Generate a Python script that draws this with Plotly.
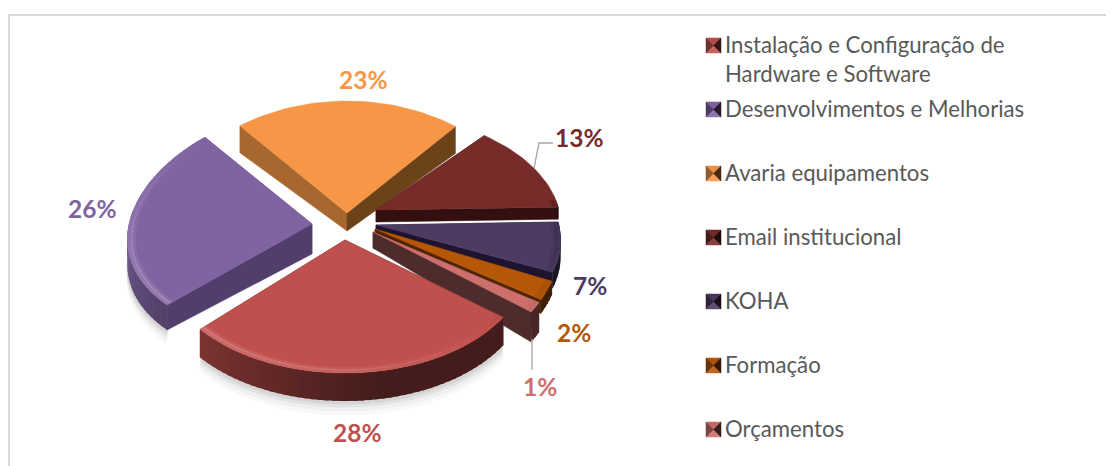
import math
import plotly.graph_objects as go

categories = ["Instalação e Configuração de\nHardware e Software", "Desenvolvimentos e Melhorias",
              "Avaria equipamentos", "Email institucional", "KOHA", "Formação", "Orçamentos"]
values = [27.6, 25.8, 22.8, 13.1, 7.0, 2.4, 1.3]
percent_labels = ["28%", "26%", "23%", "13%", "7%", "2%", "1%"]

top_colors = ["#C0504D", "#8064A2", "#F79646", "#772C2A", "#4D3B62", "#B65708", "#CD6F6C"]
cut_left = ["#4F2A2A", "#523E6C", "#6C4319", "#330F0F", "#1E1430", "#4E2500", "#4F2C2C"]
cut_right = ["#4F2A2A", "#523E6C", "#A8672F", "#330F0F", "#1E1430", "#4E2500", "#4F2C2C"]

# styling / layout (pixels of the picture)
START = 127.0
RX, PERSP = 183.0, 25.0
RY = [122.0, 116.0, 125.0, 125.0, 125.0, 125.0, 125.0]
RY_PERSP = [11.0, 2.0, 13.0, 13.0, 13.0, 13.0, 13.0]
APEX = [(345, 240), (312, 224), (347, 213), (376, 210), (376, 225), (375, 229), (373, 232)]
THICK = [(24, 28), (30, 25), (18, 27), (12, 12), (8, 16), (5, 14), (16, 30)]
Y_SCALE = [1, 1, 1, 0.86, 0.9, 1, 1]
LABEL_POS = [(357, 432), (92, 208), (363, 79), (579, 137), (590, 285), (574, 332), (540, 386)]
DRAW_ORDER = [2, 3, 1, 4, 5, 6, 0]
FONT = "Lato"


def mix(c, target, t):
    c = c.lstrip("#")
    rgb = [int(c[i:i + 2], 16) for i in (0, 2, 4)]
    return "rgb(" + ",".join(str(round(v + (target - v) * t)) for v in rgb) + ")"


def rim(i, th, r=1.0):
    a = math.radians(th)
    ap = APEX[i]
    return (ap[0] + r * math.sin(a) * (RX - PERSP * math.cos(a)),
            ap[1] - r * math.cos(a) * (RY[i] - RY_PERSP[i] * math.cos(a)) * Y_SCALE[i])


fig = go.Figure()


def poly(points, color, lw=0.0):
    xs = [p[0] for p in points] + [points[0][0]]
    ys = [p[1] for p in points] + [points[0][1]]
    fig.add_trace(go.Scatter(x=xs, y=ys, mode="lines", fill="toself", fillcolor=color,
                             line=dict(color=color, width=lw), hoverinfo="skip", showlegend=False))


def frange(a, b, step):
    n = max(1, int(math.ceil((b - a) / step)))
    return [a + (b - a) * i / n for i in range(n + 1)]


total = sum(values)
spans = []
acc = START
for v in values:
    spans.append((acc, acc + v / total * 360))
    acc += v / total * 360

# soft shadow below the front rims
for i in [0, 1, 6, 5, 4]:
    a0, a1 = spans[i]
    lo, hi = max(a0, 90), min(a1, 272)
    if hi <= lo:
        continue
    for grow, alpha in ((14, 0.025), (10, 0.035), (6, 0.05), (3, 0.06)):
        ths = frange(lo, hi, 4)
        outer = [(x, y + THICK[i][1] + grow) for x, y in (rim(i, t, 1.005) for t in ths)]
        inner = [(x, y + THICK[i][1] - 8) for x, y in (rim(i, t, 0.97) for t in reversed(ths))]
        poly(outer + inner, f"rgba(0,0,0,{alpha})")

# slices, painted from back to front
for i in DRAW_ORDER:
    a0, a1 = spans[i]
    apex = APEX[i]
    t_a, t_r = THICK[i]
    base = top_colors[i]
    # cut faces
    for th, col in ((a0, cut_right[i]), (a1, cut_left[i])):
        p = rim(i, th)
        poly([apex, p, (p[0], p[1] + t_r), (apex[0], apex[1] + t_a)], col, 0.5)
    # outer side
    ths = frange(a0, a1, 2)
    for t0, t1 in zip(ths, ths[1:]):
        m = ((t0 + t1) / 2) % 360
        if not 85 <= m <= 275:
            continue
        d = min(0.65, max(0.2, 0.65 - (m - 170) / 80 * 0.42))
        t2 = min(t1 + 1.0, a1)
        p0, p1 = rim(i, t0), rim(i, t2)
        poly([p0, p1, (p1[0], p1[1] + t_r), (p0[0], p0[1] + t_r)], mix(base, 0, d))
    # top
    poly([apex] + [rim(i, t) for t in frange(a0, a1, 2)], base, 0.5)
    # bevel along the rim
    for r_in, r_out, s in ((0.955, 0.97, 0.25), (0.97, 0.985, 0.7), (0.985, 1.0, 0.45)):
        for t0, t1 in zip(ths, ths[1:]):
            m = ((t0 + t1) / 2) % 360
            if not 85 <= m <= 320:
                continue
            l = math.cos(math.radians(m - 225))
            col = mix(base, 255, 0.32 * l * s) if l > 0 else mix(base, 0, 0.4 * -l * s)
            t2 = min(t1 + 1.0, a1)
            poly([rim(i, t0, r_in), rim(i, t2, r_in), rim(i, t2, r_out), rim(i, t0, r_out)], col)

# legend
KEY_X, KEY_S = 706, 15
for i, name in enumerate(categories):
    cy = 45.5 + 64 * i
    c = top_colors[i]
    l, r, t, b = KEY_X, KEY_X + KEY_S, cy - KEY_S / 2, cy + KEY_S / 2
    mid = (KEY_X + KEY_S / 2, cy)
    poly([(l, t), (r, t), mid], mix(c, 0, 0.05), 0.5)
    poly([(l, b), (r, b), mid], mix(c, 255, 0.1), 0.5)
    poly([(l, t), (l, b), mid], mix(c, 0, 0.4), 0.5)
    poly([(r, t), (r, b), mid], mix(c, 0, 0.72), 0.5)
    for k, line in enumerate(name.split("\n")):
        fig.add_annotation(x=723, y=cy - 1 + k * 28.5, text=line, showarrow=False, xanchor="left",
                           yanchor="middle", font=dict(family=FONT, size=22.2, color="#595959"))

# data labels
for i, txt in enumerate(percent_labels):
    fig.add_annotation(x=LABEL_POS[i][0], y=LABEL_POS[i][1], text=f"<b>{txt}</b>", showarrow=False,
                       font=dict(family=FONT, size=24.5, color=top_colors[i]))

shapes = [
    dict(type="path", path="M 9 466 L 9 15 L 1114 15", line=dict(color="#D9D9D9", width=2), xref="x", yref="y"),
    dict(type="path", path="M 534 168 L 539 143 L 553 143", line=dict(color="#A6A6A6", width=1.3), xref="x", yref="y"),
    dict(type="path", path="M 532 339 L 532 370", line=dict(color="#A6A6A6", width=1.3), xref="x", yref="y"),
]
# the page body keeps its default 8 px margin, so the drawing area starts at pixel 8
fig.update_layout(
    width=1106, height=458, margin=dict(l=0, r=0, t=0, b=0), showlegend=False,
    paper_bgcolor="white", plot_bgcolor="white", shapes=shapes,
    xaxis=dict(range=[8, 1114], visible=False, fixedrange=True),
    yaxis=dict(range=[466, 8], visible=False, fixedrange=True),
)
fig.write_html("out.html")
